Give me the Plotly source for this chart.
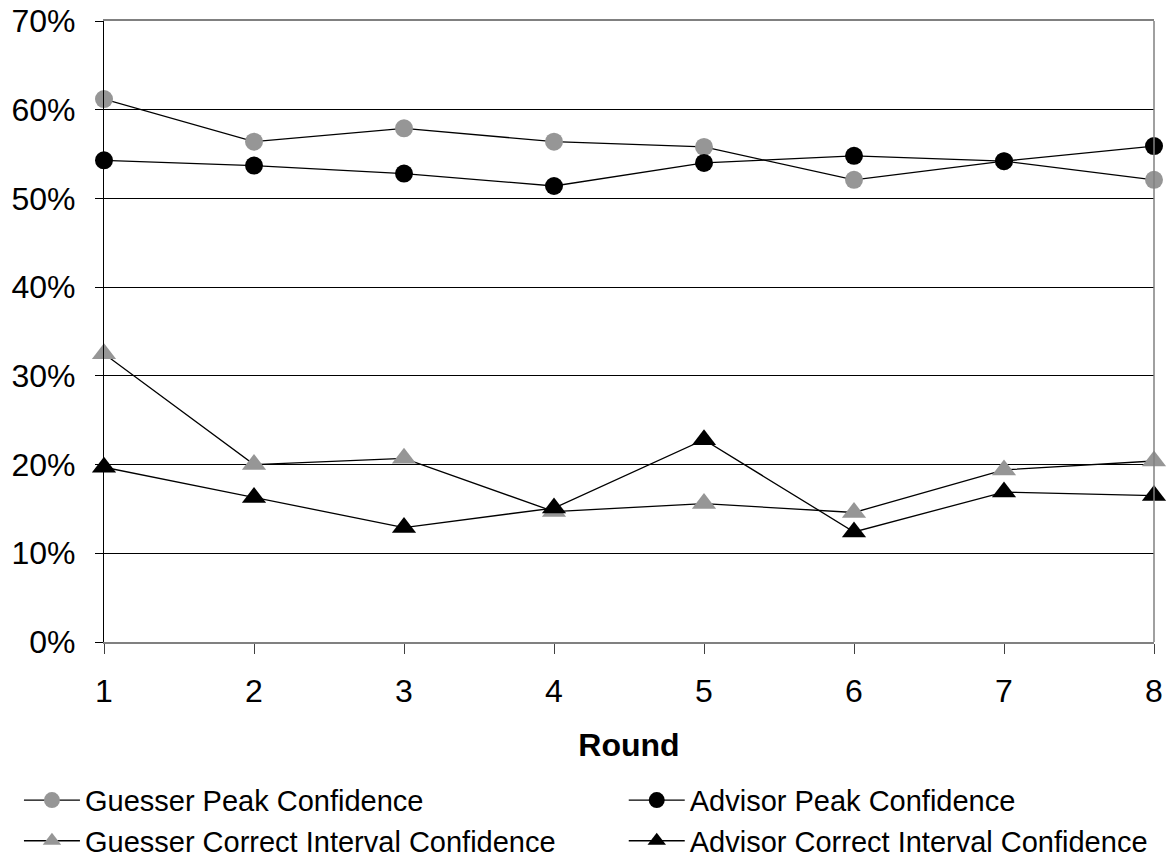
import plotly.graph_objects as go

rounds = [1, 2, 3, 4, 5, 6, 7, 8]
guesser_peak = [61.2, 56.4, 57.9, 56.4, 55.8, 52.1, 54.2, 52.1]
advisor_peak = [54.3, 53.7, 52.8, 51.4, 54.0, 54.8, 54.2, 55.9]
guesser_ci = [32.5, 20.0, 20.7, 14.7, 15.6, 14.6, 19.4, 20.4]
advisor_ci = [19.7, 16.3, 12.9, 15.1, 22.8, 12.4, 16.9, 16.5]
y_ticks = [0, 10, 20, 30, 40, 50, 60, 70]
y_tick_labels = ["0%", "10%", "20%", "30%", "40%", "50%", "60%", "70%"]

GRAY = "#969696"
FONT = "Liberation Sans, Arial, sans-serif"

series = [
    ("Guesser Peak Confidence", guesser_peak, "circle", GRAY, 18, "legend"),
    ("Guesser Correct Interval Confidence", guesser_ci, "triangle-up", GRAY, 21, "legend"),
    ("Advisor Peak Confidence", advisor_peak, "circle", "black", 18, "legend2"),
    ("Advisor Correct Interval Confidence", advisor_ci, "triangle-up", "black", 21, "legend2"),
]

fig = go.Figure()
for name, vals, sym, col, sz, lg in series:
    fig.add_trace(go.Scatter(
        x=rounds, y=[v / 100 for v in vals], name=name, mode="lines+markers",
        line=dict(color="black", width=1.3),
        marker=dict(symbol=sym, color=col, size=sz, line=dict(width=0)),
        cliponaxis=False, legend=lg,
    ))

legend_common = dict(
    orientation="v", yanchor="top", xanchor="left", y=-0.2137,
    font=dict(size=29, family=FONT), bgcolor="rgba(0,0,0,0)",
    itemwidth=56, tracegroupgap=0,
)

fig.update_layout(
    width=1176, height=858,
    margin=dict(l=104, r=22, t=21, b=216, autoexpand=False),
    paper_bgcolor="white", plot_bgcolor="white",
    font=dict(family=FONT, color="black", size=32),
    showlegend=True,
    legend=dict(x=-0.081, **legend_common),
    legend2=dict(x=0.495, **legend_common),
    xaxis=dict(
        range=[1, 8], tickvals=rounds, ticktext=[str(r) for r in rounds],
        showgrid=False, zeroline=False,
        showline=True, linecolor="#808080", linewidth=1.5, mirror=True,
        ticks="outside", ticklen=10, tickcolor="#404040", tickwidth=1,
        ticklabelstandoff=10,
        tickfont=dict(size=32, family=FONT),
        title=dict(text="<b>Round</b>", font=dict(size=32, family=FONT), standoff=25),
    ),
    yaxis=dict(
        range=[0, 0.7], tickvals=[t / 100 for t in y_ticks], ticktext=y_tick_labels,
        showgrid=True, gridcolor="black", gridwidth=1, zeroline=False,
        showline=True, linecolor="black", linewidth=1.2,
        ticks="outside", ticklen=8, tickcolor="black", tickwidth=1,
        ticklabelstandoff=13,
        tickfont=dict(size=32, family=FONT),
    ),
    shapes=[dict(type="line", xref="paper", yref="paper", x0=1, x1=1, y0=0, y1=1,
                 line=dict(color="#808080", width=1.5), layer="above")],
)

fig.write_html("out.html")
